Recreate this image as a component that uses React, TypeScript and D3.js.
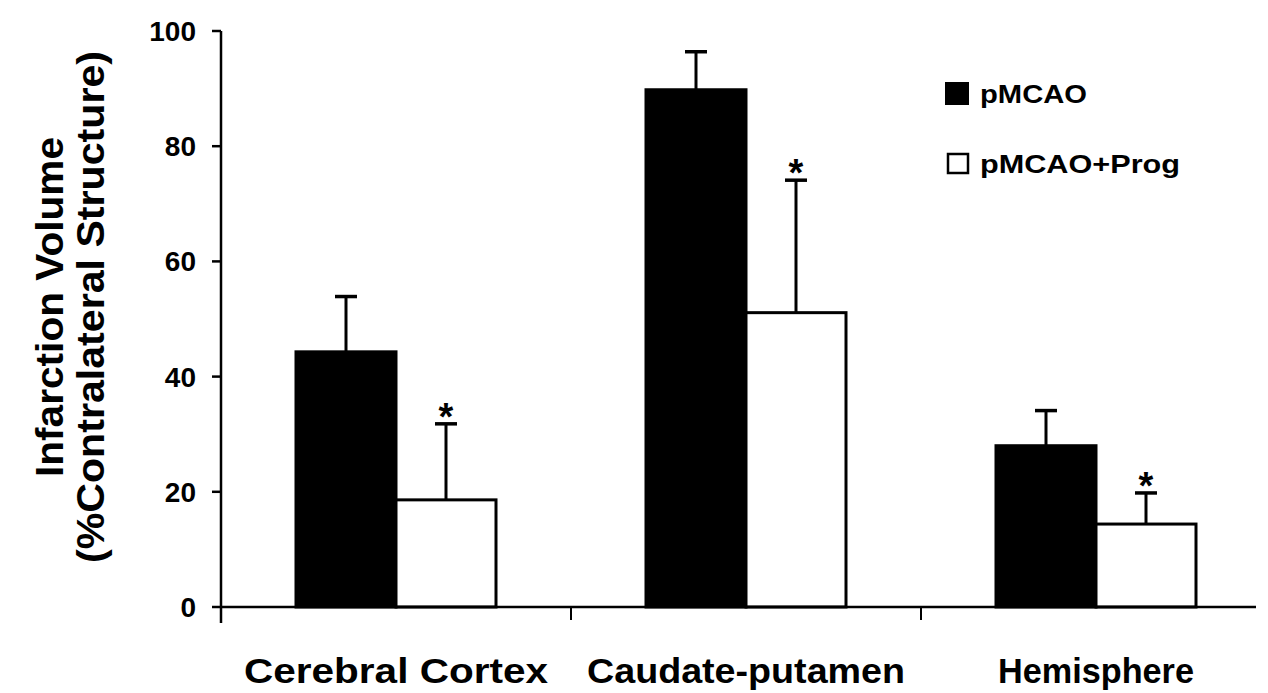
import React from "react";
import * as d3 from "d3";

const categories = ["Cerebral Cortex", "Caudate-putamen", "Hemisphere"];
const seriesNames = ["pMCAO", "pMCAO+Prog"];
const pmcaoValues = [44.3, 89.8, 28.0];
const pmcaoErrors = [9.6, 6.6, 6.1];
const progValues = [18.6, 51.1, 14.4];
const progErrors = [13.2, 23.0, 5.4];
const progSignificant = [true, true, true];
const yTicks = [0, 20, 40, 60, 80, 100];
const yTitleLines = ["Infarction Volume", "(%Contralateral Structure)"];

// style-only helpers
const categoryLabelWidths = [304, 318, 196];
const legendTextWidths = [107, 200];
const yTitleWidths = [340, 512];
const FONT = "'Liberation Sans', Arial, Helvetica, sans-serif";

export default function App() {
  const W = 1268;
  const H = 693;
  const x0 = 221;
  const x1 = 1271;
  const yBottom = 607;
  const yTop = 31;

  const y = d3.scaleLinear().domain([0, 100]).range([yBottom, yTop]);
  const xBand = d3.scaleBand<string>().domain(categories).range([x0, x1]).paddingInner(0).paddingOuter(0);
  const xSub = d3
    .scaleBand<string>()
    .domain(seriesNames)
    .range([0, xBand.bandwidth()])
    .paddingInner(0)
    .paddingOuter(0.75);

  const series = [
    { name: seriesNames[0], values: pmcaoValues, errors: pmcaoErrors, fill: "#000" },
    { name: seriesNames[1], values: progValues, errors: progErrors, fill: "#fff" },
  ];

  const boundaries = categories.slice(1).map((c) => xBand(c) as number);

  return (
    <svg
      width={W}
      height={H}
      style={{ position: "absolute", left: 0, top: 0, background: "#fff" }}
      fontFamily={FONT}
      fontWeight="bold"
    >
      <rect x={0} y={0} width={W} height={H} fill="#fff" />

      {/* Bars */}
      {series.map((s, si) =>
        categories.map((c, ci) => {
          const bx = (xBand(c) as number) + (xSub(s.name) as number);
          const bw = xSub.bandwidth();
          const top = y(s.values[ci]);
          const cx = bx + bw / 2;
          const eTop = y(s.values[ci] + s.errors[ci]);
          return (
            <g key={`${si}-${ci}`}>
              <line x1={cx} x2={cx} y1={top} y2={eTop} stroke="#000" strokeWidth={3} />
              <line x1={cx - 11} x2={cx + 11} y1={eTop} y2={eTop} stroke="#000" strokeWidth={3.5} />
              <rect
                x={bx}
                y={top}
                width={bw}
                height={yBottom - top}
                fill={s.fill}
                stroke="#000"
                strokeWidth={3}
              />
              {si === 1 && progSignificant[ci] ? (
                <text x={cx} y={eTop + 6} textAnchor="middle" fontSize={38} fill="#000">
                  *
                </text>
              ) : null}
            </g>
          );
        })
      )}

      {/* Y axis */}
      <line x1={x0} x2={x0} y1={y(100)} y2={yBottom + 16} stroke="#000" strokeWidth={2.5} />
      {yTicks.map((t) => (
        <g key={t}>
          <line x1={x0 - 9} x2={x0} y1={y(t)} y2={y(t)} stroke="#000" strokeWidth={2.5} />
          <text x={196} y={y(t)} dy="0.36em" textAnchor="end" fontSize={28} fill="#000">
            {t}
          </text>
        </g>
      ))}

      {/* X axis */}
      <line x1={x0} x2={1256} y1={yBottom} y2={yBottom} stroke="#000" strokeWidth={2.5} />
      {boundaries.map((b, i) => (
        <line key={i} x1={b} x2={b} y1={yBottom} y2={yBottom + 13} stroke="#000" strokeWidth={2} />
      ))}
      {categories.map((c, i) => (
        <text
          key={c}
          x={(xBand(c) as number) + xBand.bandwidth() / 2}
          y={683}
          textAnchor="middle"
          fontSize={35}
          fill="#000"
          textLength={categoryLabelWidths[i]}
          lengthAdjust="spacingAndGlyphs"
        >
          {c}
        </text>
      ))}

      {/* Y title */}
      {yTitleLines.map((line, i) => (
        <text
          key={line}
          transform={`translate(${i === 0 ? 63 : 104},307) rotate(-90)`}
          textAnchor="middle"
          fontSize={39}
          fill="#000"
          textLength={yTitleWidths[i]}
          lengthAdjust="spacingAndGlyphs"
        >
          {line}
        </text>
      ))}

      {/* Legend */}
      {series.map((s, i) => (
        <g key={s.name} transform={`translate(0,${i * 70})`}>
          {i === 0 ? (
            <rect x={945} y={82} width={24} height={23} fill="#000" />
          ) : (
            <rect x={948} y={84} width={20} height={19} fill="#fff" stroke="#000" strokeWidth={2.5} />
          )}
          <text
            x={980}
            y={103}
            fontSize={25}
            fill="#000"
            textLength={legendTextWidths[i]}
            lengthAdjust="spacingAndGlyphs"
          >
            {s.name}
          </text>
        </g>
      ))}
    </svg>
  );
}
